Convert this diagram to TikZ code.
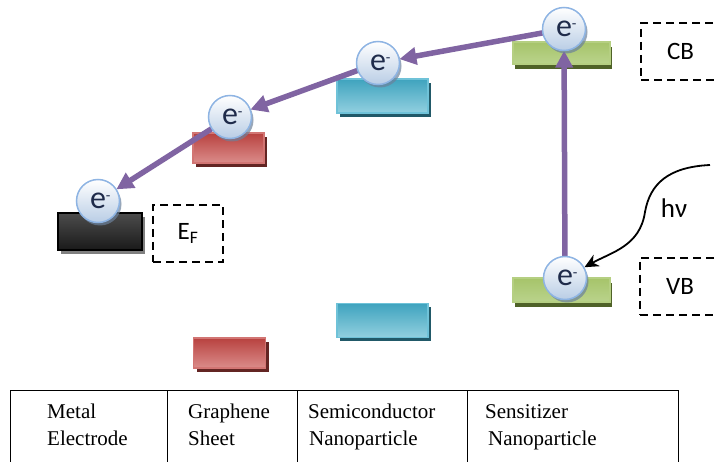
\documentclass[tikz,border=0pt]{standalone}
\usepackage{fontspec}
\setmainfont{Liberation Serif}
\newfontfamily\carlito{Carlito}
\usetikzlibrary{arrows.meta,shadows}
\definecolor{purp}{HTML}{8064A2}
\definecolor{grnT}{HTML}{A6C46A}
\definecolor{grnM}{HTML}{9BBB59}
\definecolor{grnB}{HTML}{BAD38C}
\definecolor{grnE}{HTML}{B5CF82}
\definecolor{grnS}{HTML}{4F6228}
\definecolor{redT}{HTML}{B8423F}
\definecolor{redM}{HTML}{C0504D}
\definecolor{redB}{HTML}{DB8C8A}
\definecolor{redE}{HTML}{D27573}
\definecolor{redS}{HTML}{632523}
\definecolor{cyaT}{HTML}{3FA3BE}
\definecolor{cyaM}{HTML}{4FAFC8}
\definecolor{cyaB}{HTML}{92D0E0}
\definecolor{cyaE}{HTML}{6FC2D8}
\definecolor{cyaS}{HTML}{215968}
\definecolor{elB}{HTML}{8EB4E3}
\definecolor{elF}{HTML}{B9CDE5}
\definecolor{elS}{HTML}{6C819B}
\definecolor{elT}{HTML}{1F2B4A}
\begin{document}
\begin{tikzpicture}[x=1pt,y=-1pt,
  barbase/.style={rectangle, inner sep=0pt, line width=1.3pt},
  greenbar/.style={barbase, draw=grnE, top color=grnT, middle color=grnM, bottom color=grnB,
    drop shadow={shadow xshift=2pt, shadow yshift=-5pt, fill=grnS, opacity=1}},
  redbar/.style={barbase, draw=redE, top color=redT, middle color=redM, bottom color=redB,
    drop shadow={shadow xshift=3pt, shadow yshift=-4pt, fill=redS, opacity=1}},
  cyanbar/.style={barbase, draw=cyaE, top color=cyaT, middle color=cyaM, bottom color=cyaB,
    drop shadow={shadow xshift=3pt, shadow yshift=-4pt, fill=cyaS, opacity=1}},
  blackbar/.style={barbase, draw=black, top color=black!70, middle color=black, bottom color=black!90,
    drop shadow={shadow xshift=3pt, shadow yshift=-4pt, fill=black!50, opacity=1}},
  electron/.style={circle, minimum size=43pt, inner sep=0pt, draw=elB, line width=1.5pt,
    top color=white, bottom color=elF, text=elT,
    font=\carlito\fontsize{32}{32}\selectfont,
    drop shadow={shadow xshift=2pt, shadow yshift=-3pt, fill=elS, opacity=.7}},
  dbox/.style={rectangle, draw=black, line width=2pt, dash pattern=on 8pt off 5pt,
    minimum height=57pt, inner sep=0pt, font=\carlito\fontsize{25}{25}\selectfont},
  parrow/.style={draw=purp, line width=5.5pt, -{Triangle[length=17pt,width=17pt]}},
  hvarrow/.style={draw=black, line width=1.8pt, -{Stealth[length=14pt,width=13pt]}},
  cell/.style={rectangle, draw=black, line width=1.4pt, minimum height=90pt, inner sep=0pt, anchor=north west},
  tabtext/.style={anchor=base west, inner sep=0pt, font=\fontsize{21}{21}\selectfont}
]
\useasboundingbox (0,0) rectangle (715,462);

% energy bars
\node[blackbar, minimum width=84pt, minimum height=37pt] (bm) at (100,231.5) {};
\node[redbar, minimum width=71pt, minimum height=30pt] (bgu) at (228.5,148) {};
\node[redbar, minimum width=72pt, minimum height=30pt] (bgl) at (229.5,353) {};
\node[cyanbar, minimum width=91pt, minimum height=34pt] (bsu) at (382.5,96) {};
\node[cyanbar, minimum width=91pt, minimum height=34pt] (bsl) at (382.5,320.5) {};
\node[greenbar, minimum width=97pt, minimum height=22pt] (btu) at (561.5,53) {};
\node[greenbar, minimum width=97pt, minimum height=24pt] (btl) at (561.5,290) {};

% dashed label boxes
\node[dbox, minimum width=70pt] (ef) at (188,233.5) {E\textsubscript{F}};
\node[dbox, minimum width=79pt] (cb) at (680.5,51.5) {CB};
\node[dbox, minimum width=80pt] (vb) at (680,286.5) {VB};

% electron positions
\coordinate (cm) at (98,201);
\coordinate (cg) at (230,117);
\coordinate (cs) at (378,63);
\coordinate (ct) at (564,29);
\coordinate (cbt) at (565,278);
\path (cm) node[circle, minimum size=43pt, inner sep=0pt] (em) {};
\path (cg) node[circle, minimum size=43pt, inner sep=0pt] (eg) {};
\path (cs) node[circle, minimum size=43pt, inner sep=0pt] (es) {};
\path (ct) node[circle, minimum size=43pt, inner sep=0pt] (et) {};
\path (cbt) node[circle, minimum size=43pt, inner sep=0pt] (eb) {};

% arrows
\draw[parrow] (eb) -- (et);
\draw[parrow] (et) -- (es);
\draw[parrow] (es) -- (eg);
\draw[parrow] (eg) -- (em);

% electrons on top
\node[electron] (emv) at (cm) {e\rlap{\raisebox{8pt}{\fontsize{15}{15}\selectfont -}}};
\node[electron] (egv) at (cg) {e\rlap{\raisebox{8pt}{\fontsize{15}{15}\selectfont -}}};
\node[electron] (esv) at (cs) {e\rlap{\raisebox{8pt}{\fontsize{15}{15}\selectfont -}}};
\node[electron] (etv) at (ct) {e\rlap{\raisebox{8pt}{\fontsize{15}{15}\selectfont -}}};
\node[electron] (ebv) at (cbt) {e\rlap{\raisebox{8pt}{\fontsize{15}{15}\selectfont -}}};

% photon
\coordinate (hvs) at (710,165);
\draw[hvarrow] (hvs) .. controls (668,167) and (650,184) .. (645,212)
  .. controls (640,246) and (612,252) .. (ebv);
\node[font=\carlito\fontsize{27}{27}\selectfont, inner sep=0pt] (hv) at (674,208) {hν};

% table
\node[cell, minimum width=157pt] (c1) at (10,390) {};
\node[cell, minimum width=130pt] (c2) at (167,390) {};
\node[cell, minimum width=170pt] (c3) at (297,390) {};
\node[cell, minimum width=211pt] (c4) at (467,390) {};
\node[tabtext] (t1a) at (47,418) {Metal};
\node[tabtext] (t1b) at (47,445) {Electrode};
\node[tabtext] (t2a) at (188,418) {Graphene};
\node[tabtext] (t2b) at (188,445) {Sheet};
\node[tabtext] (t3a) at (308,418) {Semiconductor};
\node[tabtext] (t3b) at (309,445) {Nanoparticle};
\node[tabtext] (t4a) at (485,418) {Sensitizer};
\node[tabtext] (t4b) at (488,445) {Nanoparticle};
\end{tikzpicture}
\end{document}
